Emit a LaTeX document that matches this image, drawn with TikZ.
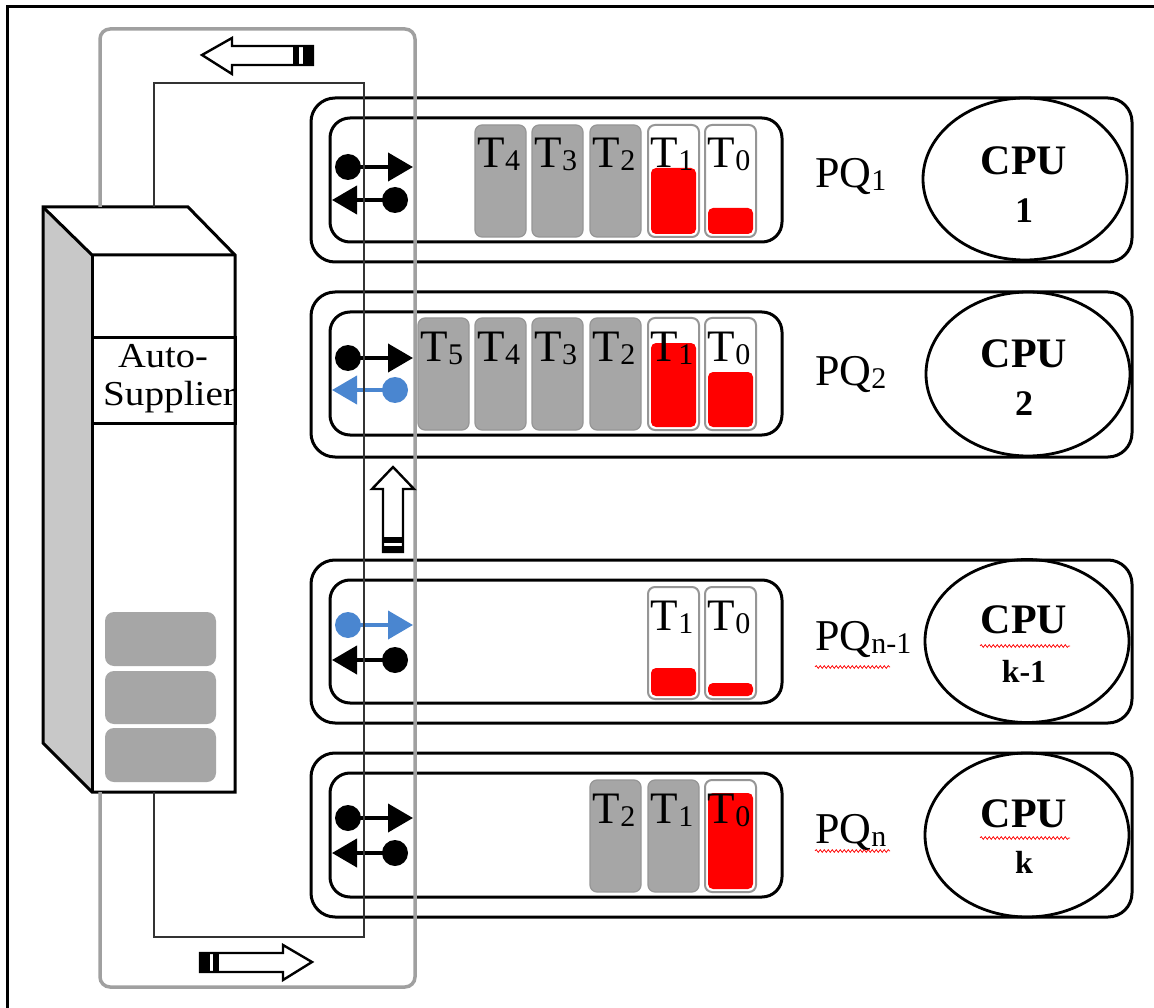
\documentclass[tikz,border=0pt]{standalone}
\usepackage{fontspec}
\setmainfont{Liberation Serif}
\usetikzlibrary{arrows.meta,decorations.pathmorphing,shapes.geometric}
\definecolor{taskgray}{RGB}{166,166,166}
\definecolor{taskedge}{RGB}{150,150,150}
\definecolor{loopgray}{RGB}{160,160,160}
\definecolor{blueA}{RGB}{74,134,208}
\definecolor{sidegray}{RGB}{200,200,200}
\definecolor{redA}{RGB}{255,0,0}
\newcommand\tsub[1]{\raisebox{-3pt}{\fontsize{30}{30}\selectfont #1}}
\tikzset{
  rowouter/.style={draw=black, line width=3pt, rounded corners=24pt},
  rowinner/.style={draw=black, line width=3pt, rounded corners=20pt},
  taskg/.style={fill=taskgray, draw=taskedge, line width=1.2pt, rounded corners=7pt},
  taskw/.style={fill=white, draw=taskedge, line width=2pt, rounded corners=7pt},
  redfill/.style={fill=redA, rounded corners=5pt},
  tlab/.style={font=\fontsize{45}{45}\selectfont, inner sep=0pt, anchor=base},
  pqlab/.style={font=\fontsize{44}{44}\selectfont, inner sep=0pt, anchor=base west},
  cpulab/.style={font=\fontsize{42}{42}\selectfont\bfseries, inner sep=0pt, anchor=base},
  cpunum/.style={font=\fontsize{36}{36}\selectfont\bfseries, inner sep=0pt, anchor=base},
  cpuell/.style={draw=black, line width=2.8pt, ellipse, inner sep=0pt, minimum width=204pt},
  dotk/.style={circle, fill=black, inner sep=0pt, minimum size=26pt},
  dotb/.style={circle, fill=blueA, inner sep=0pt, minimum size=26pt},
  miniarr/.style={line width=4pt, -{Triangle[length=25pt,width=28pt]}},
  blockarr/.style={draw=black, line width=2.4pt, fill=white, line join=miter},
  boxline/.style={draw=black, line width=3pt, line join=miter},
  wavy/.style={draw=red, line width=0.7pt, decorate, decoration={snake, amplitude=1.4pt, segment length=4pt}},
}
\newcommand\tgray[4]{% x, ytop, sub, name
  \draw[taskg] (#1,#2) rectangle ++(51,112);
  \node[tlab] (#4) at (#1+24,#2+43) {T\tsub{#3}};}
\newcommand\twhite[5]{% x, ytop, sub, redtop, name
  \draw[taskw] (#1,#2) rectangle ++(51,112);
  \fill[redfill] (#1+3,#4) rectangle (#1+48,#2+109);
  \node[tlab] (#5) at (#1+24,#2+43) {T\tsub{#3}};}
\begin{document}
\begin{tikzpicture}[x=1pt,y=-1pt]
\useasboundingbox (0,0) rectangle (1154,1008);
\fill[white] (0,0) rectangle (1154,1008);
% frame (left and top)
\draw[line width=3pt] (7,1008) -- (7,7) -- (1154,7);

% 3D box of the auto-supplier
\fill[sidegray] (43,207) -- (92,255) -- (92,792) -- (43,743) -- cycle;
\fill[white] (43,207) -- (188,207) -- (235,255) -- (92,255) -- cycle;
\fill[white] (92,255) rectangle (235,792);
\draw[boxline] (43,207) -- (188,207) -- (235,255) -- (235,792) -- (92,792) -- (43,743) -- cycle;
\draw[boxline] (43,207) -- (92,255) -- (235,255);
\draw[boxline] (92,255) -- (92,792);
\fill[taskgray, rounded corners=9pt] (105,612) rectangle (216,666);
\fill[taskgray, rounded corners=9pt] (105,671) rectangle (216,724);
\fill[taskgray, rounded corners=9pt] (105,728) rectangle (216,782);
\begin{scope}
  \clip (92,338) rectangle (235,423);
  \node[font=\fontsize{35}{35}\selectfont, inner sep=0pt, anchor=base] (as1) at (163,367) {\scalebox{1.1}[1]{Auto-}};
  \node[font=\fontsize{35}{35}\selectfont, inner sep=0pt, anchor=base west] (as2) at (103,405) {\scalebox{1.12}[1]{Supplier}};
\end{scope}
\draw[boxline] (92,338) rectangle (235,423);

% rows: outer and inner boxes
\draw[rowouter] (311,98) rectangle (1132,262);
\draw[rowinner] (330,118) rectangle (782,242);
\draw[rowouter] (311,292) rectangle (1132,457);
\draw[rowinner] (330,312) rectangle (782,435);
\draw[rowouter] (311,560) rectangle (1132,723);
\draw[rowinner] (330,580) rectangle (782,703);
\draw[rowouter] (311,753) rectangle (1132,917);
\draw[rowinner] (330,773) rectangle (782,897);

% row 1 tasks
\tgray{475}{125}{4}{r1t4}
\tgray{532}{125}{3}{r1t3}
\tgray{590}{125}{2}{r1t2}
\twhite{648}{125}{1}{168}{r1t1}
\twhite{705}{125}{0}{208}{r1t0}
% row 2 tasks
\tgray{418}{318}{5}{r2t5}
\tgray{475}{318}{4}{r2t4}
\tgray{532}{318}{3}{r2t3}
\tgray{590}{318}{2}{r2t2}
\twhite{648}{318}{1}{343}{r2t1}
\twhite{705}{318}{0}{372}{r2t0}
% row n-1 tasks
\twhite{648}{587}{1}{668}{r3t1}
\twhite{705}{587}{0}{683}{r3t0}
% row n tasks
\tgray{590}{780}{2}{r4t2}
\tgray{648}{780}{1}{r4t1}
\twhite{705}{780}{0}{793}{r4t0}

% PQ labels
\node[pqlab] (pq1) at (815,188) {PQ\tsub{1}};
\node[pqlab] (pq2) at (815,385) {PQ\tsub{2}};
\node[pqlab] (pq3) at (815,650) {PQ\tsub{n-1}};
\node[pqlab] (pq4) at (815,843) {PQ\tsub{n}};

% CPUs
\node[cpuell, minimum height=162pt] (cpu1) at (1025,179) {};
\node[cpulab] (cpu1a) at (1024,175) {CPU};
\node[cpunum] (cpu1b) at (1024,223) {1};
\node[cpuell, minimum height=164pt] (cpu2) at (1028,374) {};
\node[cpulab] (cpu2a) at (1024,367) {CPU};
\node[cpunum] (cpu2b) at (1024,415) {2};
\node[cpuell, minimum height=163pt] (cpu3) at (1027,641) {};
\node[cpulab] (cpu3a) at (1024,633) {CPU};
\node[cpunum, font=\fontsize{32}{32}\selectfont\bfseries] (cpu3b) at (1024,682) {k-1};
\node[cpuell, minimum height=164pt] (cpu4) at (1027,835) {};
\node[cpulab] (cpu4a) at (1024,827) {CPU};
\node[cpunum, font=\fontsize{32}{32}\selectfont\bfseries] (cpu4b) at (1024,873) {k};

% spell-check underlines
\draw[wavy] (815,667) -- (890,667);
\draw[wavy] (815,851) -- (890,851);
\draw[wavy] (980,646) -- (1070,646);
\draw[wavy] (980,838) -- (1070,838);

% mini arrows in the queues
\node[dotk] (a1r) at (348,167) {}; \coordinate (a1re) at (413,167);
\node[dotk] (a1l) at (395,200) {}; \coordinate (a1le) at (332,200);
\draw[miniarr] (a1r.center) -- (a1re);
\draw[miniarr] (a1l.center) -- (a1le);
\node[dotk] (a2r) at (348,358) {}; \coordinate (a2re) at (413,358);
\node[dotb] (a2l) at (395,390) {}; \coordinate (a2le) at (332,390);
\draw[miniarr] (a2r.center) -- (a2re);
\draw[miniarr, blueA] (a2l.center) -- (a2le);
\node[dotb] (a3r) at (348,625) {}; \coordinate (a3re) at (413,625);
\node[dotk] (a3l) at (395,660) {}; \coordinate (a3le) at (332,660);
\draw[miniarr, blueA] (a3r.center) -- (a3re);
\draw[miniarr] (a3l.center) -- (a3le);
\node[dotk] (a4r) at (348,818) {}; \coordinate (a4re) at (413,818);
\node[dotk] (a4l) at (395,853) {}; \coordinate (a4le) at (332,853);
\draw[miniarr] (a4r.center) -- (a4re);
\draw[miniarr] (a4l.center) -- (a4le);

% loop lines
\draw[loopgray, line width=3.5pt, rounded corners=10pt] (100,207) -- (100,29) -- (415,29) -- (415,987) -- (100,987) -- (100,792);
\draw[black!80, line width=2.4pt] (154,207) -- (154,83) -- (364,83) -- (364,937) -- (154,937) -- (154,792);

% block arrows
\draw[blockarr] (202,55) -- (232,38) -- (232,46) -- (313,46) -- (313,65) -- (232,65) -- (232,74) -- cycle;
\fill (293,46) rectangle (299,65);
\fill (303,46) rectangle (313,65);
\draw[blockarr] (312,962) -- (283,945) -- (283,953) -- (200,953) -- (200,972) -- (283,972) -- (283,980) -- cycle;
\fill (200,953) rectangle (210,972);
\fill (213,953) rectangle (219,972);
\draw[blockarr] (393,467) -- (414,489) -- (403,489) -- (403,552) -- (383,552) -- (383,489) -- (372,489) -- cycle;
\fill (383,537) rectangle (403,543);
\fill (383,546) rectangle (403,552);
\end{tikzpicture}
\end{document}
